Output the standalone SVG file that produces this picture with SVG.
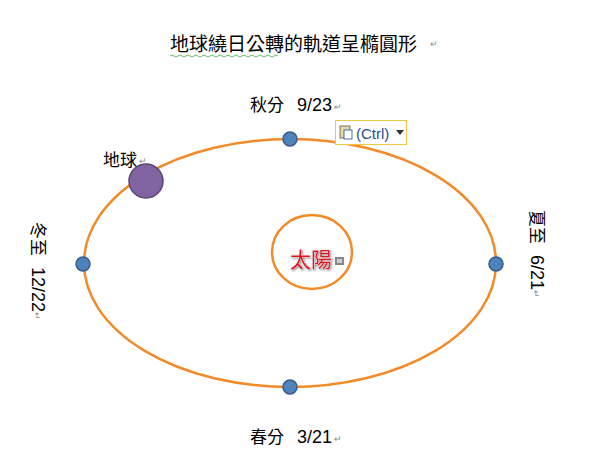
<svg xmlns="http://www.w3.org/2000/svg" width="600" height="466" viewBox="0 0 600 466">
<style>
.t{font-family:"Liberation Sans","Noto Sans CJK TC",sans-serif;fill:#000}
.orb{fill:none;stroke:#F28A27;stroke-width:2.5}
.pt{fill:#4F81BD;stroke:#385D8A;stroke-width:1.5}
.rm{font-family:"Liberation Sans",sans-serif;font-size:9px;fill:#888}
</style>
<rect width="600" height="466" fill="#fff"/>
<g id="title">
<text class="t" x="170" y="51" font-size="19">地球繞日公轉的軌道呈橢圓形</text>
<path d="M170,56 q2,-2 4,0 t4,0 t4,0 t4,0 t4,0 t4,0 t4,0 t4,0 t4,0 t4,0 t4,0 t4,0 t4,0 t4,0 t4,0 t4,0 t4,0 t4,0 t4,0 t4,0 t4,0 t4,0 t4,0 t4,0 t4,0 t4,0 t4,0" fill="none" stroke="#3DAA3D" stroke-width="0.8"/>
<text class="rm" x="430" y="47">↵</text>
</g>
<g id="connectors">
<ellipse class="orb" cx="290" cy="263" rx="206" ry="124"/>
</g>
<g id="sun">
<ellipse class="orb" cx="312" cy="252" rx="40" ry="37"/>
<text x="290" y="267" font-size="21" font-family="Liberation Sans,'Noto Sans CJK TC',sans-serif" fill="#E0141E" stroke="#fff" stroke-width="0.6" paint-order="stroke" style="filter:drop-shadow(1px 1px 1px #888)">太陽</text>
<rect x="335" y="257" width="9" height="8" fill="#888"/>
<rect x="337" y="259" width="5" height="4" fill="#ccc"/>
</g>
<g id="autumn">
<circle class="pt" cx="290" cy="139" r="7"/>
<text class="t" x="250" y="111" font-size="17">秋分</text>
<text class="t" x="297" y="111" font-size="18">9/23</text>
<text class="rm" x="334" y="110">↵</text>
</g>
<g id="ctrl">
<rect x="335.5" y="120.5" width="71" height="24" fill="#fff" stroke="#F2C744" stroke-width="1"/>
<rect x="340" y="126" width="10" height="12" fill="#E8D9A0" stroke="#555" stroke-width="0.8"/>
<rect x="344" y="130" width="8" height="9" fill="#fff" stroke="#1F4E9A" stroke-width="0.8"/>
<text x="356" y="139" font-size="15" font-family="Liberation Sans,sans-serif" fill="#1F4E9A">(Ctrl)</text>
<path d="M396,130 h8 l-4,5 z" fill="#333"/>
</g>
<g id="winter">
<circle class="pt" cx="83" cy="264" r="7"/>
<text class="t" transform="translate(32,222) rotate(90)" font-size="17">冬至</text>
<text class="t" transform="translate(32,267) rotate(90)" font-size="18">12/22</text>
<text class="rm" transform="translate(34,312) rotate(90)">↵</text>
</g>
<g id="summer">
<circle class="pt" cx="496" cy="264" r="7"/>
<text class="t" transform="translate(531,210) rotate(90)" font-size="17">夏至</text>
<text class="t" transform="translate(531,255) rotate(90)" font-size="18">6/21</text>
<text class="rm" transform="translate(533,290) rotate(90)">↵</text>
</g>
<g id="spring">
<circle class="pt" cx="290" cy="387" r="7"/>
<text class="t" x="250" y="443" font-size="17">春分</text>
<text class="t" x="297" y="443" font-size="18">3/21</text>
<text class="rm" x="334" y="442">↵</text>
</g>
<g id="earth">
<circle cx="146" cy="181" r="17" fill="#8064A2" stroke="#5C4776" stroke-width="1.5"/>
<text class="t" x="103" y="166" font-size="17">地球</text>
<text class="rm" x="139" y="164">↵</text>
</g>
</svg>
